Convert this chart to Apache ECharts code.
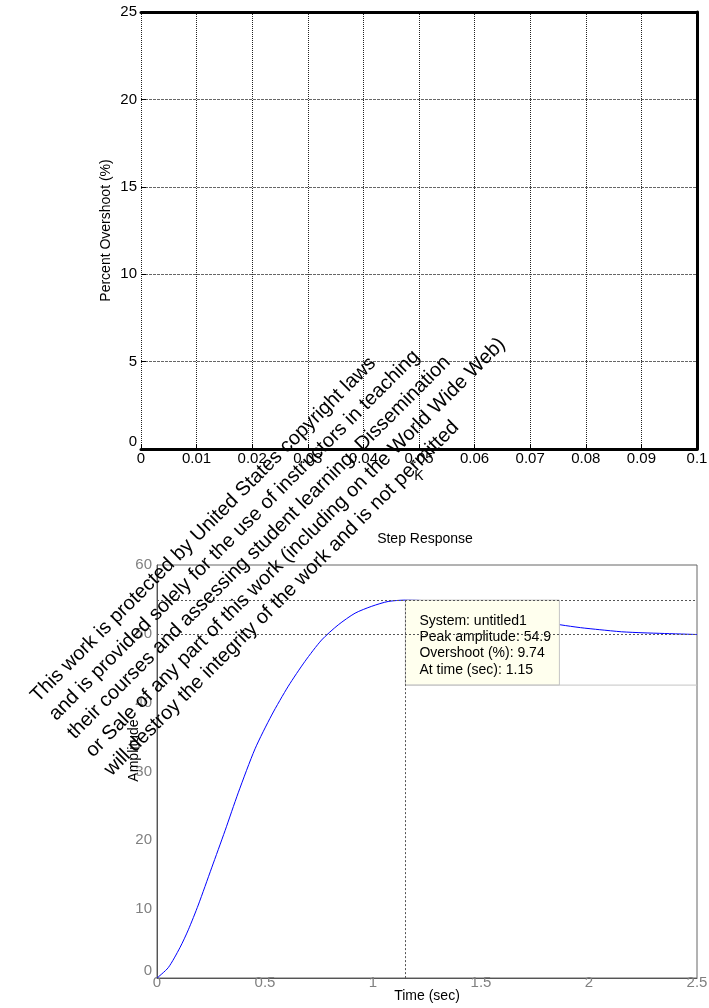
<!DOCTYPE html>
<html>
<head>
<meta charset="utf-8">
<script src="https://cdn.jsdelivr.net/npm/echarts@6/dist/echarts.min.js"></script>
<style>
  html, body { margin: 0; padding: 0; background: #fff; }
  #chart { width: 709px; height: 1008px; }
</style>
</head>
<body>
<div id="chart"></div>
<script>
const FONT = 'Liberation Sans'

// top plot: percent overshoot vs K (empty axes)
const kTicks = [0, 0.01, 0.02, 0.03, 0.04, 0.05, 0.06, 0.07, 0.08, 0.09, 0.1]
const overshootTicks = [0, 5, 10, 15, 20, 25]

// bottom plot: step response
const timeTicks = [0, 0.5, 1, 1.5, 2, 2.5]
const ampTicks = [0, 10, 20, 30, 40, 50, 60]
const stepTime = [0, 0.052, 0.106, 0.145, 0.191, 0.253, 0.315, 0.376, 0.454, 0.531, 0.608, 0.685, 0.762, 0.839, 0.917, 0.994, 1.07, 1.15, 1.22, 1.3, 1.4, 1.5, 1.6, 1.7, 1.8, 1.87, 1.96, 2.05, 2.15, 2.25, 2.35, 2.45, 2.5]
const stepAmp = [0, 1.5, 4.4, 7.0, 10.6, 16.0, 21.4, 26.9, 33.3, 38.2, 42.4, 46.0, 49.1, 51.3, 53.0, 54.0, 54.7, 54.9, 54.85, 54.6, 54.1, 53.5, 52.9, 52.3, 51.7, 51.3, 50.9, 50.6, 50.3, 50.15, 50.05, 49.95, 49.9]

// data tip
const systemName = 'untitled1'
const peakTime = 1.15
const peakAmp = 54.9
const overshootPct = 9.74
const finalValue = 50

const watermarkLines = [
  'This work is protected by United States copyright laws',
  'and is provided solely for the use of instructors in teaching',
  'their courses and assessing student learning. Dissemination',
  'or Sale of any part of this work (including on the World Wide Web)',
  'will destroy the integrity of the work and is not permitted'
]

const tipLines = [
  'System: ' + systemName,
  'Peak amplitude: ' + peakAmp,
  'Overshoot (%): ' + overshootPct,
  'At time (sec): ' + peakTime
]

const myChart = echarts.init(document.getElementById('chart'))

const blackLabel = { color: '#000', fontFamily: FONT, fontSize: 15 }
const grayLabel = { color: '#808080', fontFamily: FONT, fontSize: 15 }
const nameStyle = { color: '#000', fontFamily: FONT, fontSize: 14 }

const option = {
  animation: false,
  backgroundColor: '#fff',
  title: {
    text: 'Step Response',
    left: 420,
    top: 527,
    textAlign: 'center',
    textStyle: { color: '#000', fontFamily: FONT, fontSize: 14, fontWeight: 'normal' }
  },
  grid: [
    { left: 141, top: 12, width: 556, height: 437, outerBoundsMode: 'none' },
    {
      left: 157, top: 565, width: 540, height: 413, outerBoundsMode: 'none',
      show: true, borderColor: '#666', borderWidth: 1, backgroundColor: 'transparent'
    }
  ],
  xAxis: [
    {
      gridIndex: 0,
      type: 'value',
      min: kTicks[0],
      max: kTicks[kTicks.length - 1],
      interval: 0.01,
      name: 'K',
      nameLocation: 'middle',
      nameGap: 20,
      nameMoveOverlap: false,
      nameTextStyle: nameStyle,
      axisLine: { show: true, onZero: false, lineStyle: { color: '#000', width: 3 } },
      axisTick: { show: true, inside: true, length: 5, lineStyle: { color: '#000' } },
      axisLabel: Object.assign({ margin: 2 }, blackLabel),
      splitLine: { show: true, showMinLine: true, showMaxLine: true, lineStyle: { color: '#222', type: [1, 1], width: 1 } }
    },
    {
      gridIndex: 0,
      type: 'value',
      position: 'top',
      min: kTicks[0],
      max: kTicks[kTicks.length - 1],
      axisLine: { show: true, onZero: false, lineStyle: { color: '#000', width: 3 } },
      axisTick: { show: false },
      axisLabel: { show: false },
      splitLine: { show: false }
    },
    {
      gridIndex: 1,
      type: 'value',
      min: timeTicks[0],
      max: timeTicks[timeTicks.length - 1],
      interval: 0.5,
      name: 'Time (sec)',
      nameLocation: 'middle',
      nameGap: 11,
      nameMoveOverlap: false,
      nameTextStyle: nameStyle,
      axisLine: { show: true, onZero: false, lineStyle: { color: '#555', width: 1 } },
      axisTick: { show: false },
      axisLabel: Object.assign({ margin: -3 }, grayLabel),
      splitLine: { show: false }
    }
  ],
  yAxis: [
    {
      gridIndex: 0,
      type: 'value',
      min: overshootTicks[0],
      max: overshootTicks[overshootTicks.length - 1],
      interval: 5,
      name: 'Percent Overshoot (%)',
      nameLocation: 'middle',
      nameGap: 28,
      nameMoveOverlap: false,
      nameTextStyle: nameStyle,
      axisLine: { show: false },
      axisTick: { show: true, inside: true, length: 5, lineStyle: { color: '#000' } },
      axisLabel: Object.assign({ margin: 4, verticalAlignMinLabel: 'bottom' }, blackLabel),
      splitLine: { show: true, showMinLine: true, showMaxLine: true, lineStyle: { color: '#666', type: [3, 1], width: 1 } }
    },
    {
      gridIndex: 0,
      type: 'value',
      position: 'right',
      min: overshootTicks[0],
      max: overshootTicks[overshootTicks.length - 1],
      axisLine: { show: true, onZero: false, lineStyle: { color: '#000', width: 3 } },
      axisTick: { show: false },
      axisLabel: { show: false },
      splitLine: { show: false }
    },
    {
      gridIndex: 1,
      type: 'value',
      min: ampTicks[0],
      max: ampTicks[ampTicks.length - 1],
      interval: 10,
      name: 'Amplitude',
      nameLocation: 'middle',
      nameGap: 16,
      nameMoveOverlap: false,
      nameTextStyle: Object.assign({ padding: [0, 0, 0, 42] }, nameStyle),
      axisLine: { show: true, onZero: false, lineStyle: { color: '#555', width: 1 } },
      axisTick: { show: false },
      axisLabel: Object.assign({ margin: 5, verticalAlignMinLabel: 'bottom' }, grayLabel),
      splitLine: { show: false }
    }
  ],
  series: [
    {
      // empty overshoot plot
      type: 'line',
      xAxisIndex: 0,
      yAxisIndex: 0,
      data: []
    },
    {
      name: 'untitled1',
      type: 'line',
      xAxisIndex: 2,
      yAxisIndex: 2,
      z: 2,
      showSymbol: false,
      symbol: 'none',
      smooth: 0.25,
      lineStyle: { color: '#0000ff', width: 1 },
      data: stepTime.map((t, i) => [t, stepAmp[i]]),
      markLine: {
        silent: true,
        symbol: 'none',
        z: 5,
        label: { show: false },
        lineStyle: { color: '#555', type: [2, 2], width: 1 },
        data: [
          { yAxis: peakAmp },
          { yAxis: finalValue },
          [{ coord: [peakTime, peakAmp] }, { coord: [peakTime, 0] }]
        ]
      }
    },
    {
      // data tip box
      type: 'custom',
      xAxisIndex: 2,
      yAxisIndex: 2,
      z: 3,
      silent: true,
      data: [[peakTime, peakAmp]],
      renderItem: function (params, api) {
        const p = api.coord([api.value(0), api.value(1)])
        const cs = params.coordSys
        const w = 154
        const h = 85
        const children = [
          {
            type: 'rect',
            shape: { x: p[0], y: p[1], width: w, height: h },
            style: { fill: '#ffffee', stroke: '#c4c4c4', lineWidth: 1 }
          },
          {
            type: 'line',
            shape: { x1: p[0], y1: p[1] + h, x2: cs.x + cs.width, y2: p[1] + h },
            style: { stroke: '#c4c4c4', lineWidth: 1 }
          }
        ]
        tipLines.forEach(function (t, i) {
          children.push({
            type: 'text',
            x: p[0] + 14,
            y: p[1] + 21 + i * 16.2,
            style: {
              text: t,
              fill: '#000',
              font: '14px "' + FONT + '"',
              textAlign: 'left',
              textVerticalAlign: 'middle'
            }
          })
        })
        return { type: 'group', children: children }
      }
    }
  ],
  graphic: [
    {
      type: 'group',
      x: 34,
      y: 699,
      rotation: Math.PI / 4,
      z: 100,
      silent: true,
      children: watermarkLines.map(function (t, i) {
        return {
          type: 'text',
          x: 0,
          y: i * 26,
          z: 100,
          style: {
            text: t,
            fill: '#000',
            font: '20px "' + FONT + '"',
            textAlign: 'left',
            textVerticalAlign: 'middle'
          }
        }
      })
    }
  ]
}

myChart.setOption(option)
</script>
</body>
</html>
